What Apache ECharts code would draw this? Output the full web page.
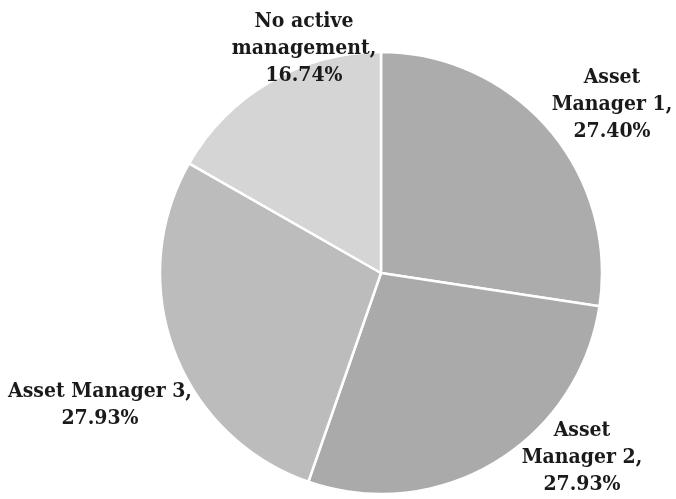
<!DOCTYPE html>
<html>
<head>
<meta charset="utf-8">
<script src="https://cdn.jsdelivr.net/npm/echarts@6/dist/echarts.min.js"></script>
<style>
  html, body { margin: 0; padding: 0; background: #fff; }
  #chart { width: 676px; height: 499px; }
</style>
</head>
<body>
<div id="chart"></div>
<script>
const names = ['Asset Manager 1', 'Asset Manager 2', 'Asset Manager 3', 'No active management'];
const values = [27.40, 27.93, 27.93, 16.74];
const labelLines = [
  ['Asset', 'Manager 1,'],
  ['Asset', 'Manager 2,'],
  ['Asset Manager 3,'],
  ['No active', 'management,']
];
const colors = ['#acacac', '#aaaaaa', '#bcbcbc', '#d5d5d5'];
// where each label sits
const labelSpots = [[612, 105], [582, 458], [100, 405], [304, 49]];

const chart = echarts.init(document.getElementById('chart'));
chart.setOption({
  animation: false,
  series: [{
    type: 'pie',
    center: [381, 273],
    radius: 221,
    startAngle: 90,
    clockwise: true,
    data: names.map((n, i) => ({ name: n, value: values[i], itemStyle: { color: colors[i] } })),
    itemStyle: { borderColor: '#fff', borderWidth: 2.5 },
    label: {
      show: true,
      position: 'outside',
      overflow: 'none',
      fontFamily: '"DejaVu Serif Condensed", "DejaVu Serif", serif',
      fontWeight: 'bold',
      fontSize: 21,
      lineHeight: 27,
      color: '#1a1a1a',
      align: 'center',
      formatter: p => labelLines[p.dataIndex].join('\n') + '\n' + p.percent.toFixed(2) + '%'
    },
    labelLine: { show: false },
    labelLayout: p => ({
      x: labelSpots[p.dataIndex][0],
      y: labelSpots[p.dataIndex][1],
      align: 'center',
      verticalAlign: 'middle',
      width: 200
    })
  }]
});
</script>
</body>
</html>
